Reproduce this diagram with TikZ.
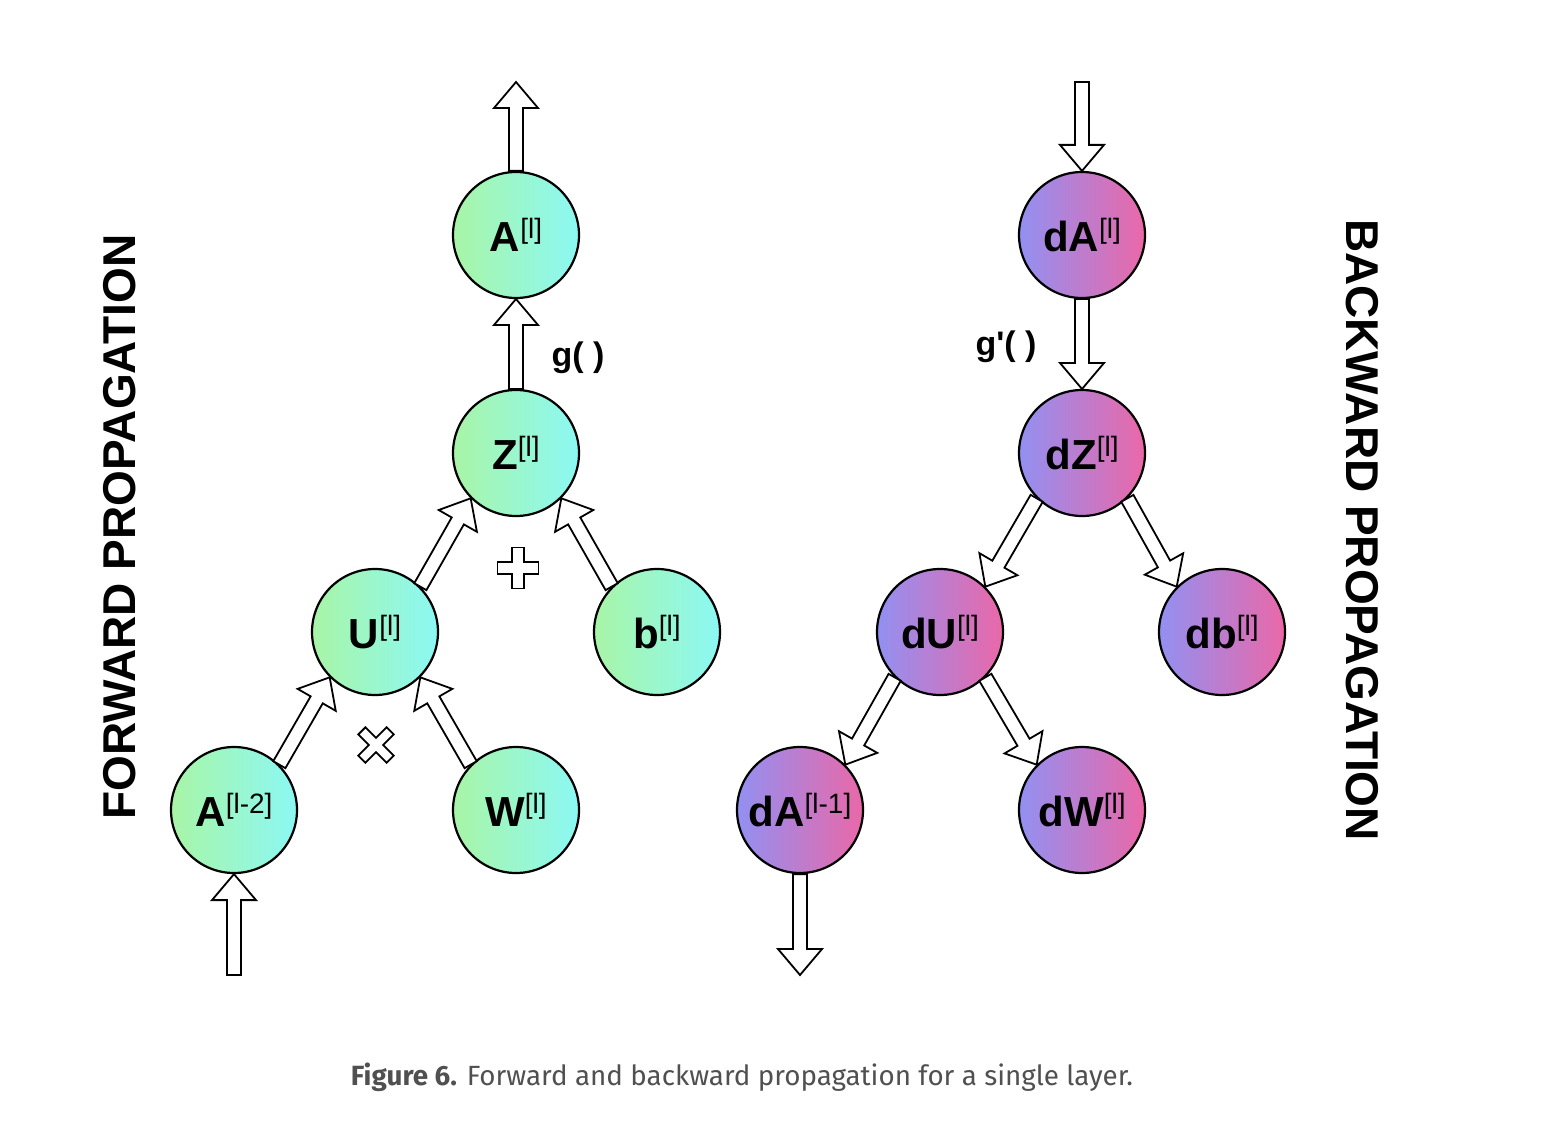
\documentclass[tikz,border=0pt]{standalone}
\usepackage{fontspec}
\setmainfont{Liberation Sans}
\newfontfamily\capfont{Fira Sans}
\usetikzlibrary{calc}
\definecolor{gL}{HTML}{A8F5A6}
\definecolor{gR}{HTML}{8CF8F4}
\definecolor{pL}{HTML}{9290F2}
\definecolor{pR}{HTML}{EA68A8}
\definecolor{capgrey}{HTML}{505050}
\tikzset{
  fwd/.style={circle, draw=black, line width=2.2pt, minimum size=126pt, inner sep=0pt,
    left color=gL, right color=gR},
  bwd/.style={circle, draw=black, line width=2.2pt, minimum size=126pt, inner sep=0pt,
    left color=pL, right color=pR},
  blockarr/.style={draw=black, fill=white, line width=1.8pt, line join=miter},
  symb/.style={draw=black, fill=white, line width=1.8pt},
  lbl/.style={font=\fontsize{34}{34}\selectfont\bfseries},
  side/.style={font=\fontsize{46}{46}\selectfont\bfseries}
}
\newcommand\lab[2]{{\fontsize{42}{42}\selectfont\bfseries #1}\raisebox{13pt}{\fontsize{28}{28}\selectfont #2}}
% block arrow from point #1 to tip #2
\newcommand\barrow[2]{%
  \coordinate (ba s) at (#1);
  \coordinate (ba t) at (#2);
  \coordinate (ba h) at ($(ba t)!26pt!(ba s)$);
  \draw[blockarr] ($(ba s)!7pt!90:(ba t)$) -- ($(ba h)!7pt!90:(ba t)$) -- ($(ba h)!22pt!90:(ba t)$)
     -- (ba t) -- ($(ba h)!22pt!-90:(ba t)$) -- ($(ba h)!7pt!-90:(ba t)$) -- ($(ba s)!7pt!-90:(ba t)$) -- cycle;
}
% block arrow from node #1 to node #2 (boundary to boundary)
\newcommand\narrow[2]{%
  \barrow{$(#1)!64pt!(#2)$}{$(#2)!64pt!(#1)$}
}
\begin{document}
\begin{tikzpicture}[x=1pt,y=-1pt]
\useasboundingbox (0,0) rectangle (1546,1134);
\fill[white] (0,0) rectangle (1546,1134);
% forward nodes
\node[fwd] (A)  at (516,235) {\lab{A}{[l]}};
\node[fwd] (Z)  at (516,453) {\lab{Z}{[l]}};
\node[fwd] (U)  at (375,632) {\lab{U}{[l]}};
\node[fwd] (b)  at (657,632) {\lab{b}{[l]}};
\node[fwd] (A2) at (234,810) {\lab{A}{[l-2]}};
\node[fwd] (W)  at (516,810) {\lab{W}{[l]}};
% backward nodes
\node[bwd] (dA)  at (1082,235) {\lab{dA}{[l]}};
\node[bwd] (dZ)  at (1082,453) {\lab{dZ}{[l]}};
\node[bwd] (dU)  at (940,632)  {\lab{dU}{[l]}};
\node[bwd] (db)  at (1222,632) {\lab{db}{[l]}};
\node[bwd] (dA1) at (800,810)  {\lab{dA}{[l-1]}};
\node[bwd] (dW)  at (1082,810) {\lab{dW}{[l]}};
% free ends
\coordinate (outA) at (516,82);
\coordinate (inA2) at (234,975);
\coordinate (indA) at (1082,82);
\coordinate (outdA1) at (800,975);
% forward arrows
\barrow{A.north}{outA}
\narrow{Z}{A}
\barrow{U.45}{Z.225}
\barrow{b.135}{Z.315}
\barrow{A2.45}{U.225}
\barrow{W.135}{U.315}
\barrow{inA2}{A2.south}
% backward arrows
\barrow{indA}{dA.north}
\narrow{dA}{dZ}
\barrow{dZ.225}{dU.45}
\barrow{dZ.315}{db.135}
\barrow{dU.225}{dA1.45}
\barrow{dU.315}{dW.135}
\barrow{dA1.south}{outdA1}
% operation symbols
\node[inner sep=0pt] (plus) at (518,568) {};
\draw[symb, shift={(plus)}] (-6,-20.5) -- (6,-20.5) -- (6,-6) -- (20.5,-6) -- (20.5,6) -- (6,6) -- (6,20.5)
  -- (-6,20.5) -- (-6,6) -- (-20.5,6) -- (-20.5,-6) -- (-6,-6) -- cycle;
\node[inner sep=0pt] (times) at (376,745) {};
\draw[symb, shift={(times)}, rotate=45] (-5,-20) -- (5,-20) -- (5,-5) -- (20,-5) -- (20,5) -- (5,5) -- (5,20)
  -- (-5,20) -- (-5,5) -- (-20,5) -- (-20,-5) -- (-5,-5) -- cycle;
% function labels
\node[lbl] (g) at (578,358) {g( )};
\node[lbl] (gp) at (1006,347) {g\textquotesingle( )};
% side titles
\node[side, rotate=90] (fp) at (120,527) {FORWARD PROPAGATION};
\node[side, rotate=-90] (bp) at (1362,530) {BACKWARD PROPAGATION};
% caption
\node[font=\capfont\fontsize{27.8}{28}\selectfont, text=capgrey] (cap) at (742,1077)
  {\textbf{Figure 6.} Forward and backward propagation for a single layer.};
\end{tikzpicture}
\end{document}
